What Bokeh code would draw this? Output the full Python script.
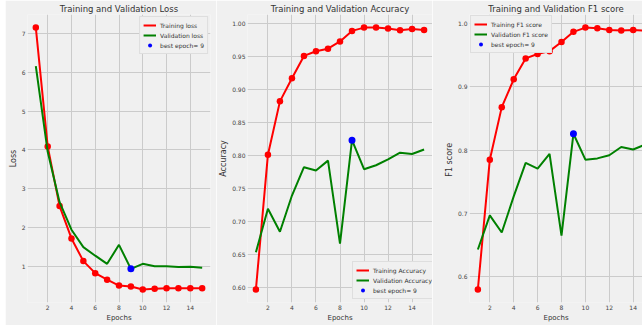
from bokeh.plotting import figure
from bokeh.layouts import row
from bokeh.models import Legend, LegendItem, FixedTicker, Range1d, PrintfTickFormatter, Spacer
from bokeh.embed import file_html
from bokeh.resources import INLINE

epochs = list(range(1, 16))
train_loss = [7.155, 4.09, 2.55, 1.715, 1.13, 0.82, 0.65, 0.50, 0.475, 0.40, 0.42, 0.43, 0.43, 0.43, 0.43]
val_loss = [6.16, 3.95, 2.65, 1.94, 1.49, 1.27, 1.06, 1.55, 0.93, 1.06, 1.00, 1.00, 0.98, 0.985, 0.96]
train_acc = [0.5965, 0.801, 0.882, 0.917, 0.951, 0.958, 0.962, 0.973, 0.989, 0.994, 0.994, 0.9925, 0.990, 0.992, 0.9905]
val_acc = [0.653, 0.719, 0.684, 0.739, 0.782, 0.777, 0.792, 0.666, 0.823, 0.779, 0.785, 0.794, 0.804, 0.802, 0.809]
train_f1 = [0.580, 0.785, 0.868, 0.912, 0.945, 0.952, 0.9565, 0.971, 0.987, 0.9937, 0.9927, 0.990, 0.989, 0.990, 0.989]
val_f1 = [0.643, 0.697, 0.670, 0.727, 0.780, 0.771, 0.794, 0.665, 0.826, 0.785, 0.787, 0.792, 0.805, 0.801, 0.809]
best_epoch = 9
x_ticks = [2, 4, 6, 8, 10, 12, 14]
loss_ticks = [1, 2, 3, 4, 5, 6, 7]
acc_ticks = [0.60, 0.65, 0.70, 0.75, 0.80, 0.85, 0.90, 0.95, 1.00]
f1_ticks = [0.6, 0.7, 0.8, 0.9, 1.0]

BG = "#f0f0f0"
GRID = "#cbcbcb"
FONT = "DejaVu Sans"
H = 325


def yrange(a, b):
    lo = min(min(a), min(b))
    hi = max(max(a), max(b))
    m = (hi - lo) * 0.05
    return Range1d(lo - m, hi + m)


def make_fig(width, left, right, xr, yr, title, ylabel, yticks, yfmt):
    p = figure(width=width, height=H, x_range=xr, y_range=yr, output_backend="svg",
               toolbar_location=None, min_border_left=left, min_border_right=right,
               min_border_top=14, min_border_bottom=23)
    p.background_fill_color = BG
    p.border_fill_color = BG
    p.outline_line_color = None
    p.title.text = title
    p.title.align = "center"
    p.title.text_font = FONT
    p.title.text_font_size = "8.5px"
    p.title.text_font_style = "normal"
    p.title.text_color = "#333333"
    p.title.standoff = 2
    for ax in (p.xaxis[0], p.yaxis[0]):
        ax.axis_line_color = None
        ax.major_tick_line_color = None
        ax.minor_tick_line_color = None
        ax.major_tick_out = 0
        ax.major_tick_in = 0
        ax.minor_tick_out = 0
        ax.minor_tick_in = 0
        ax.major_label_text_font = FONT
        ax.major_label_text_font_size = "6px"
        ax.major_label_text_color = "#444444"
        ax.axis_label_text_font = FONT
        ax.axis_label_text_font_style = "normal"
        ax.axis_label_text_color = "#333333"
        ax.major_label_standoff = 2
        ax.axis_label_standoff = 1
    p.xaxis.axis_label_text_font_size = "7px"
    p.yaxis.axis_label_text_font_size = "8px"
    p.xaxis.axis_label = "Epochs"
    p.yaxis.axis_label = ylabel
    p.xaxis.ticker = FixedTicker(ticks=x_ticks)
    p.yaxis.ticker = FixedTicker(ticks=yticks)
    p.xaxis.formatter = PrintfTickFormatter(format="%d")
    p.yaxis.formatter = PrintfTickFormatter(format=yfmt)
    p.grid.grid_line_color = GRID
    p.grid.grid_line_width = 1
    return p


def add_series(p, tr, va, labels, location, margin=2):
    lt = p.line(epochs, tr, line_color="#ff0000", line_width=2)
    p.scatter(epochs, tr, size=6.5, fill_color="#ff0000", line_color=None)
    lv = p.line(epochs, va, line_color="#008000", line_width=2)
    b = p.scatter([best_epoch], [va[best_epoch - 1]], size=7, fill_color="#0000ff", line_color=None)
    leg = Legend(items=[LegendItem(label=labels[0], renderers=[lt]),
                        LegendItem(label=labels[1], renderers=[lv]),
                        LegendItem(label=labels[2], renderers=[b])],
                 location=location)
    leg.label_text_font = FONT
    leg.label_text_font_size = "6px"
    leg.label_text_color = "#333333"
    leg.glyph_width = 13
    leg.glyph_height = 10
    leg.label_height = 10
    leg.label_standoff = 4
    leg.spacing = 0
    leg.padding = 3
    leg.margin = margin
    leg.background_fill_color = BG
    leg.background_fill_alpha = 1
    leg.border_line_color = "#cccccc"
    leg.border_line_width = 1
    p.add_layout(leg, "center")


p1 = make_fig(211, 17, 6, Range1d(0.3, 15.7), yrange(train_loss, val_loss),
              "Training and Validation Loss", "Loss", loss_ticks, "%d")
add_series(p1, train_loss, val_loss, ["Training loss", "Validation loss", "best epoch= 9"], "top_right")

p2 = make_fig(216, 28, 0, Range1d(0.3, 15.7), yrange(train_acc, val_acc),
              "Training and Validation Accuracy", "Accuracy", acc_ticks, "%.2f")
add_series(p2, train_acc, val_acc, ["Training Accuracy", "Validation Accuracy", "best epoch= 9"], (105, 3), margin=0)

p3 = make_fig(210, 37, 0, Range1d(0.3, 14.78), yrange(train_f1, val_f1),
              "Training and Validation F1 score", "F1  score", f1_ticks, "%.1f")
p3.title.offset = 4
add_series(p3, train_f1, val_f1, ["Training F1 score", "Validation F1 score", "best epoch= 9"], "top_left", margin=1)

layout = row(Spacer(width=5, height=H), p1, p2, p3)
open("out.html", "w").write(file_html(layout, INLINE))
